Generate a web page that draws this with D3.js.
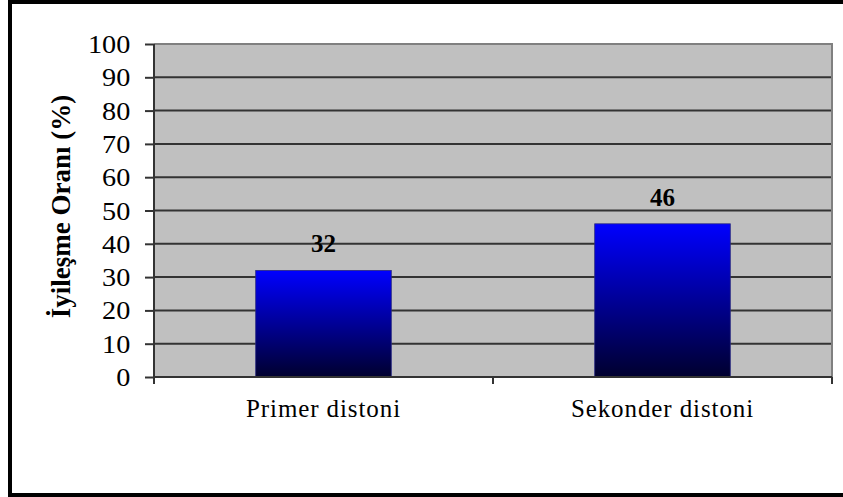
<!DOCTYPE html>
<html>
<head>
<meta charset="utf-8">
<script src="https://cdn.jsdelivr.net/npm/d3@7"></script>
<style>
html,body{margin:0;padding:0;background:#fff;}
svg{display:block;}
svg text{font-family:"Liberation Serif","Times New Roman","DejaVu Serif",serif;}
</style>
</head>
<body>
<svg id="chart" width="843" height="497"></svg>
<script>
const categories = ["Primer distoni", "Sekonder distoni"];
const values = [32, 46];
const yTicks = [0, 10, 20, 30, 40, 50, 60, 70, 80, 90, 100];
const yTitle = "İyileşme Oranı (%)";

const svg = d3.select("#chart");
const W = 843, H = 497;
const m = {left: 154, top: 44, right: 843 - 832, bottom: 497 - 377};
const pw = W - m.left - m.right, ph = H - m.top - m.bottom;

// outer frame
svg.append("rect").attr("x", 10).attr("y", 2).attr("width", 900).attr("height", 493)
  .attr("fill", "#fff").attr("stroke", "#000").attr("stroke-width", 4);

const defs = svg.append("defs");
const grad = defs.append("linearGradient").attr("id", "barGrad")
  .attr("x1", 0).attr("y1", 0).attr("x2", 0).attr("y2", 1);
grad.append("stop").attr("offset", "0%").attr("stop-color", "#0000ff");
grad.append("stop").attr("offset", "100%").attr("stop-color", "#00002e");

const x = d3.scaleBand().domain(categories).range([0, pw]).paddingInner(0.6).paddingOuter(0.3);
const xb = d3.scaleBand().domain(categories).range([0, pw]);
const y = d3.scaleLinear().domain([0, 100]).range([ph, 0]);

const g = svg.append("g").attr("transform", `translate(${m.left},${m.top})`);

g.append("rect").attr("width", pw).attr("height", ph).attr("fill", "#c0c0c0");

// gridlines
g.selectAll(".grid").data(yTicks.filter(t => t > 0 && t < 100)).enter().append("line")
  .attr("x1", 0).attr("x2", pw).attr("y1", d => y(d)).attr("y2", d => y(d))
  .attr("stroke", "#333").attr("stroke-width", 2);

// plot border top/right
g.append("path").attr("d", `M0,${y(100)}H${pw}V${ph}`).attr("fill", "none")
  .attr("stroke", "#808080").attr("stroke-width", 2);

// bars
g.selectAll(".bar").data(values).enter().append("rect")
  .attr("x", (d, i) => x(categories[i]))
  .attr("width", x.bandwidth())
  .attr("y", d => y(d))
  .attr("height", d => ph - y(d))
  .attr("fill", "url(#barGrad)")
  .attr("stroke", "#2a2a80").attr("stroke-width", 0.8);

// value labels
g.selectAll(".vlab").data(values).enter().append("text")
  .attr("x", (d, i) => x(categories[i]) + x.bandwidth() / 2)
  .attr("y", d => y(d) - 18)
  .attr("text-anchor", "middle")
  .attr("font-weight", "bold").attr("font-size", 25)
  .text(d => d);

// y axis
const yAxis = d3.axisLeft(y).tickValues(yTicks).tickSize(9).tickPadding(12).tickFormat(d3.format("d"));
const ya = g.append("g").call(yAxis);
ya.attr("font-family", null);
ya.select(".domain").attr("stroke", "#333").attr("stroke-width", 2).attr("d", `M0,0V${ph + 7}`);
ya.selectAll(".tick line").attr("stroke", "#333").attr("stroke-width", 2);
ya.selectAll(".tick text")
  .attr("font-size", 25).attr("fill", "#000").attr("dy", "0.34em")
  .attr("transform", "scale(1.13,1)");

// x axis
g.append("line").attr("x1", 0).attr("x2", pw).attr("y1", ph).attr("y2", ph)
  .attr("stroke", "#333").attr("stroke-width", 2);
const bounds = [0].concat(categories.map(c => xb(c) + xb.bandwidth()));
g.selectAll(".xtick").data(bounds).enter().append("line")
  .attr("x1", d => d).attr("x2", d => d).attr("y1", ph).attr("y2", ph + 7)
  .attr("stroke", "#333").attr("stroke-width", 2);
g.selectAll(".xlab").data(categories).enter().append("text")
  .attr("x", d => xb(d) + xb.bandwidth() / 2)
  .attr("y", ph + 40)
  .attr("text-anchor", "middle")
  .attr("font-size", 25)
  .attr("letter-spacing", "0.9px")
  .text(d => d);

// y title
svg.append("text")
  .attr("transform", `translate(70,${m.top + ph / 2 - 4}) rotate(-90)`)
  .attr("text-anchor", "middle")
  .attr("font-weight", "bold").attr("font-size", 27)
  .text(yTitle);
</script>
</body>
</html>
